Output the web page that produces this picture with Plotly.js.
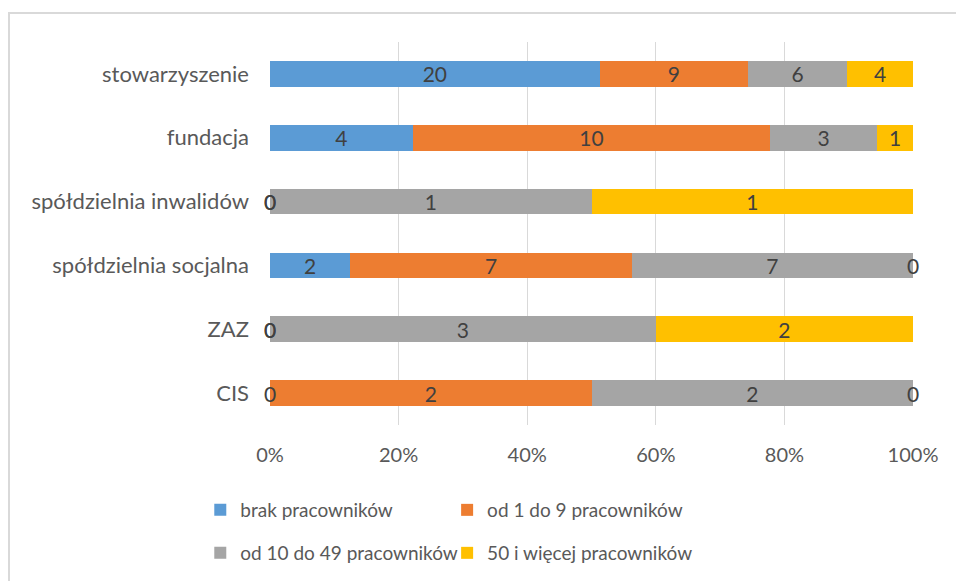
<!DOCTYPE html>
<html>
<head>
<meta charset="utf-8">
<script src="https://cdn.plot.ly/plotly-3.0.1.min.js"></script>
<style>
html,body{margin:0;padding:0;background:#fff;}
#wrap{position:relative;width:956px;height:581px;}
#chart{width:956px;height:581px;}
#frame{position:absolute;left:8px;top:12px;width:960px;height:600px;border-left:2px solid #d9d9d9;border-top:2px solid #d9d9d9;pointer-events:none;}
</style>
</head>
<body>
<div id="wrap"><div id="chart"></div><div id="frame"></div></div>
<script>
const categories = ["CIS", "ZAZ", "spółdzielnia socjalna", "spółdzielnia inwalidów", "fundacja", "stowarzyszenie"];
const seriesNames = ["brak pracowników", "od 1 do 9 pracowników", "od 10 do 49 pracowników", "50 i więcej pracowników"];
const brak = [0, 0, 2, 0, 4, 20];
const od1do9 = [2, 0, 7, 0, 10, 9];
const od10do49 = [2, 3, 7, 1, 3, 6];
const od50 = [0, 2, 0, 1, 1, 4];
const colors = ["#5B9BD5", "#ED7D31", "#A5A5A5", "#FFC000"];
const xTickVals = [0, 20, 40, 60, 80, 100];

const series = [brak, od1do9, od10do49, od50];
const FONT = "Lato, 'Liberation Sans', sans-serif";
const labelFont = {family: FONT, size: 21, color: "#404040"};
const legendIds = ["legend", "legend2", "legend3", "legend4"];

const traces = series.map((vals, i) => ({
  type: "bar",
  orientation: "h",
  name: seriesNames[i],
  y: categories,
  x: vals,
  marker: {color: colors[i], line: {width: 0}},
  text: vals.map(v => v === 0 ? "" : String(v)),
  textposition: "inside",
  insidetextanchor: "middle",
  textangle: 0,
  constraintext: "none",
  textfont: labelFont,
  hoverinfo: "name+x",
  legend: legendIds[i]
}));

// labels for zero-valued segments, placed at their cumulative position
const annotations = [];
categories.forEach((c, ci) => {
  const total = series.reduce((s, arr) => s + arr[ci], 0);
  let cum = 0;
  series.forEach(arr => {
    if (arr[ci] === 0) {
      annotations.push({x: cum / total * 100, y: c, xref: "x", yref: "y", text: "0",
        showarrow: false, font: labelFont, xanchor: "center", yanchor: "middle"});
    }
    cum += arr[ci];
  });
});

const legendFont = {family: FONT, size: 19, color: "#595959"};
function leg(x, y) {
  return {orientation: "h", xref: "container", yref: "container", x: x, xanchor: "left", y: y, yanchor: "middle",
    font: legendFont, bgcolor: "rgba(0,0,0,0)", borderwidth: 0};
}
const colX = [0.2095, 0.4677];
const rowY = [0.1222, 0.0482];

const layout = {
  width: 956, height: 581,
  margin: {l: 270, r: 43, t: 42, b: 156, autoexpand: false},
  paper_bgcolor: "#fff", plot_bgcolor: "#fff",
  barmode: "stack", barnorm: "percent", bargap: 0.6,
  font: {family: FONT, size: 20, color: "#595959"},
  xaxis: {range: [0, 100], tickvals: xTickVals, ticktext: xTickVals.map(v => v + "%"),
    showgrid: true, gridcolor: "#d9d9d9", gridwidth: 1.3, zeroline: false, showline: false,
    ticks: "", ticklabelstandoff: 16, tickfont: {family: FONT, size: 20, color: "#595959"}, fixedrange: true},
  yaxis: {showgrid: false, zeroline: false, showline: false, ticks: "",
    ticklabelstandoff: 20, tickfont: {family: FONT, size: 22, color: "#595959"}, fixedrange: true},
  showlegend: true,
  legend: leg(colX[0], rowY[0]),
  legend2: leg(colX[1], rowY[0]),
  legend3: leg(colX[0], rowY[1]),
  legend4: leg(colX[1], rowY[1]),
  annotations: annotations
};

Plotly.newPlot("chart", traces, layout, {displayModeBar: false});
</script>
</body>
</html>
